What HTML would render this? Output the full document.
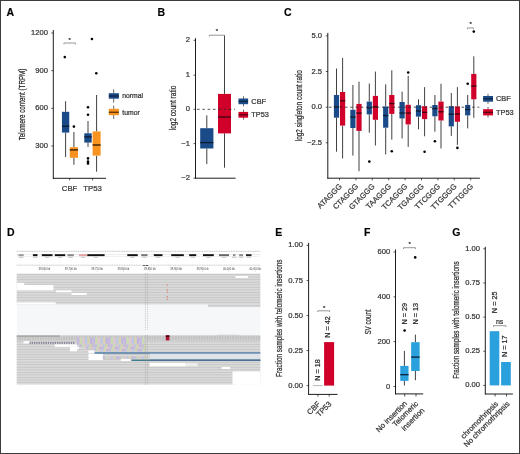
<!DOCTYPE html>
<html><head><meta charset="utf-8"><title>Figure</title>
<style>
html,body{margin:0;padding:0;background:#fff;}
body{width:520px;height:454px;overflow:hidden;}
#fig{position:relative;width:518px;height:452px;border:1px solid #3d3d3d;background:#fff;}
svg{position:absolute;left:-1px;top:-1px;font-family:"Liberation Sans", sans-serif;will-change:transform;}
text{stroke:#333;stroke-width:0.22px;}
</style></head>
<body><div id="fig">
<svg width="520" height="454" viewBox="0 0 520 454">
<text x="6.60" y="15.90" font-size="10.5" text-anchor="start" fill="#000" font-weight="bold" >A</text>
<line x1="53.30" y1="30.00" x2="53.30" y2="178.70" stroke="#111111" stroke-width="0.95" />
<line x1="52.90" y1="178.30" x2="106.00" y2="178.30" stroke="#111111" stroke-width="0.95" />
<line x1="51.30" y1="33.00" x2="53.30" y2="33.00" stroke="#111111" stroke-width="0.7" />
<text x="48.00" y="35.05" font-size="7.6" text-anchor="end" fill="#333333" font-weight="normal" >1200</text>
<line x1="51.30" y1="70.67" x2="53.30" y2="70.67" stroke="#111111" stroke-width="0.7" />
<text x="48.00" y="72.72" font-size="7.6" text-anchor="end" fill="#333333" font-weight="normal" >900</text>
<line x1="51.30" y1="108.34" x2="53.30" y2="108.34" stroke="#111111" stroke-width="0.7" />
<text x="48.00" y="110.39" font-size="7.6" text-anchor="end" fill="#333333" font-weight="normal" >600</text>
<line x1="51.30" y1="146.00" x2="53.30" y2="146.00" stroke="#111111" stroke-width="0.7" />
<text x="48.00" y="148.06" font-size="7.6" text-anchor="end" fill="#333333" font-weight="normal" >300</text>
<line x1="69.60" y1="178.30" x2="69.60" y2="180.30" stroke="#111111" stroke-width="0.7" />
<text x="69.60" y="190.80" font-size="7.8" text-anchor="middle" fill="#333333" font-weight="normal" >CBF</text>
<line x1="92.60" y1="178.30" x2="92.60" y2="180.30" stroke="#111111" stroke-width="0.7" />
<text x="92.60" y="190.80" font-size="7.8" text-anchor="middle" fill="#333333" font-weight="normal" >TP53</text>
<line x1="65.60" y1="101.20" x2="65.60" y2="111.80" stroke="#2a2a2a" stroke-width="0.9" />
<line x1="65.60" y1="132.60" x2="65.60" y2="156.90" stroke="#2a2a2a" stroke-width="0.9" />
<rect x="61.95" y="111.80" width="7.30" height="20.80" fill="#1a4b88" />
<line x1="61.95" y1="126.30" x2="69.25" y2="126.30" stroke="#0d1b2e" stroke-width="1.3" />
<line x1="73.90" y1="132.00" x2="73.90" y2="147.20" stroke="#2a2a2a" stroke-width="0.9" />
<line x1="73.90" y1="157.80" x2="73.90" y2="164.80" stroke="#2a2a2a" stroke-width="0.9" />
<rect x="69.80" y="147.20" width="8.20" height="10.60" fill="#f7931e" />
<line x1="69.80" y1="149.90" x2="78.00" y2="149.90" stroke="#2a1400" stroke-width="1.3" />
<line x1="88.00" y1="121.00" x2="88.00" y2="133.30" stroke="#2a2a2a" stroke-width="0.9" />
<line x1="88.00" y1="142.60" x2="88.00" y2="146.90" stroke="#2a2a2a" stroke-width="0.9" />
<rect x="84.30" y="133.30" width="7.40" height="9.30" fill="#1a4b88" />
<line x1="84.30" y1="136.90" x2="91.70" y2="136.90" stroke="#0d1b2e" stroke-width="1.3" />
<line x1="96.60" y1="95.00" x2="96.60" y2="131.40" stroke="#2a2a2a" stroke-width="0.9" />
<line x1="96.60" y1="155.60" x2="96.60" y2="171.70" stroke="#2a2a2a" stroke-width="0.9" />
<rect x="92.60" y="131.40" width="8.00" height="24.20" fill="#f7931e" />
<line x1="92.60" y1="145.00" x2="100.60" y2="145.00" stroke="#2a1400" stroke-width="1.3" />
<circle cx="64.80" cy="57.10" r="1.3" fill="#000"/>
<circle cx="73.90" cy="126.60" r="1.3" fill="#000"/>
<circle cx="91.90" cy="39.00" r="1.3" fill="#000"/>
<circle cx="88.00" cy="107.20" r="1.3" fill="#000"/>
<circle cx="88.00" cy="114.80" r="1.3" fill="#000"/>
<circle cx="88.00" cy="158.40" r="1.3" fill="#000"/>
<circle cx="88.00" cy="161.60" r="1.3" fill="#000"/>
<circle cx="88.00" cy="163.40" r="1.3" fill="#000"/>
<circle cx="96.30" cy="73.30" r="1.3" fill="#000"/>
<line x1="63.90" y1="43.00" x2="75.40" y2="43.00" stroke="#6b6b6b" stroke-width="0.7" />
<line x1="63.90" y1="43.00" x2="63.90" y2="44.30" stroke="#6b6b6b" stroke-width="0.7" />
<line x1="75.40" y1="43.00" x2="75.40" y2="44.30" stroke="#6b6b6b" stroke-width="0.7" />
<text x="69.60" y="41.80" font-size="6" text-anchor="middle" fill="#333" font-weight="normal" >*</text>
<line x1="113.70" y1="89.30" x2="113.70" y2="102.70" stroke="#2a2a2a" stroke-width="0.7" />
<rect x="108.80" y="93.20" width="10.10" height="5.50" fill="#1a4b88" />
<line x1="108.80" y1="96.00" x2="118.90" y2="96.00" stroke="#0d1b2e" stroke-width="1" />
<line x1="113.70" y1="105.60" x2="113.70" y2="119.00" stroke="#2a2a2a" stroke-width="0.7" />
<rect x="108.80" y="108.80" width="10.10" height="6.40" fill="#f7931e" />
<line x1="108.80" y1="112.20" x2="118.90" y2="112.20" stroke="#2a1400" stroke-width="1" />
<text x="122.30" y="98.00" font-size="6.8" text-anchor="start" fill="#333333" font-weight="normal" >normal</text>
<text x="122.30" y="114.80" font-size="6.8" text-anchor="start" fill="#333333" font-weight="normal" >tumor</text>
<text transform="translate(22.00,104.45) rotate(-90)" x="0" y="2.97" font-size="8.5" text-anchor="middle" fill="#1a1a1a" textLength="71.70" lengthAdjust="spacingAndGlyphs">Telomere content (TRPM)</text>
<text x="157.60" y="15.90" font-size="10.5" text-anchor="start" fill="#000" font-weight="bold" >B</text>
<line x1="195.50" y1="38.20" x2="195.50" y2="178.60" stroke="#111111" stroke-width="0.95" />
<line x1="195.10" y1="178.20" x2="235.60" y2="178.20" stroke="#111111" stroke-width="0.95" />
<line x1="193.50" y1="40.30" x2="195.50" y2="40.30" stroke="#111111" stroke-width="0.7" />
<text x="190.00" y="42.35" font-size="7.6" text-anchor="end" fill="#333333" font-weight="normal" >2</text>
<line x1="193.50" y1="75.20" x2="195.50" y2="75.20" stroke="#111111" stroke-width="0.7" />
<text x="190.00" y="77.25" font-size="7.6" text-anchor="end" fill="#333333" font-weight="normal" >1</text>
<line x1="193.50" y1="109.30" x2="195.50" y2="109.30" stroke="#111111" stroke-width="0.7" />
<text x="190.00" y="111.35" font-size="7.6" text-anchor="end" fill="#333333" font-weight="normal" >0</text>
<line x1="193.50" y1="143.60" x2="195.50" y2="143.60" stroke="#111111" stroke-width="0.7" />
<text x="190.00" y="145.65" font-size="7.6" text-anchor="end" fill="#333333" font-weight="normal" >&#8722;1</text>
<line x1="193.50" y1="178.20" x2="195.50" y2="178.20" stroke="#111111" stroke-width="0.7" />
<text x="190.00" y="180.25" font-size="7.6" text-anchor="end" fill="#333333" font-weight="normal" >&#8722;2</text>
<line x1="206.80" y1="115.40" x2="206.80" y2="128.20" stroke="#2a2a2a" stroke-width="0.9" />
<line x1="206.80" y1="148.50" x2="206.80" y2="164.10" stroke="#2a2a2a" stroke-width="0.9" />
<rect x="200.20" y="128.20" width="13.20" height="20.30" fill="#1a4b88" />
<line x1="200.20" y1="142.60" x2="213.40" y2="142.60" stroke="#0d1b2e" stroke-width="1.3" />
<line x1="224.50" y1="35.40" x2="224.50" y2="93.90" stroke="#2a2a2a" stroke-width="0.9" />
<line x1="224.50" y1="133.40" x2="224.50" y2="167.70" stroke="#2a2a2a" stroke-width="0.9" />
<rect x="218.00" y="93.90" width="13.00" height="39.50" fill="#d0002a" />
<line x1="218.00" y1="117.00" x2="231.00" y2="117.00" stroke="#3a0010" stroke-width="1.3" />
<line x1="197.00" y1="109.30" x2="235.00" y2="109.30" stroke="#2b2b2b" stroke-width="0.8" stroke-dasharray="2.6 2.7"/>
<line x1="209.30" y1="35.20" x2="224.40" y2="35.20" stroke="#6b6b6b" stroke-width="0.7" />
<line x1="209.30" y1="35.20" x2="209.30" y2="36.50" stroke="#6b6b6b" stroke-width="0.7" />
<line x1="224.40" y1="35.20" x2="224.40" y2="36.50" stroke="#6b6b6b" stroke-width="0.7" />
<text x="216.80" y="33.00" font-size="6" text-anchor="middle" fill="#333" font-weight="normal" >*</text>
<line x1="243.50" y1="96.30" x2="243.50" y2="106.30" stroke="#2a2a2a" stroke-width="0.7" />
<rect x="238.50" y="98.50" width="9.60" height="5.70" fill="#1a4b88" />
<line x1="238.50" y1="101.30" x2="248.10" y2="101.30" stroke="#0d1b2e" stroke-width="1" />
<line x1="243.50" y1="109.60" x2="243.50" y2="119.60" stroke="#2a2a2a" stroke-width="0.7" />
<rect x="238.50" y="111.90" width="9.60" height="5.80" fill="#d0002a" />
<line x1="238.50" y1="114.80" x2="248.10" y2="114.80" stroke="#3a0010" stroke-width="1" />
<text x="251.30" y="103.60" font-size="7.4" text-anchor="start" fill="#333333" font-weight="normal" >CBF</text>
<text x="251.30" y="117.30" font-size="7.4" text-anchor="start" fill="#333333" font-weight="normal" >TP53</text>
<text transform="translate(172.80,108.00) rotate(-90)" x="0" y="2.97" font-size="8.5" text-anchor="middle" fill="#1a1a1a" textLength="44.60" lengthAdjust="spacingAndGlyphs">log2 count ratio</text>
<text x="283.90" y="16.10" font-size="10.5" text-anchor="start" fill="#000" font-weight="bold" >C</text>
<line x1="327.80" y1="32.90" x2="327.80" y2="178.60" stroke="#111111" stroke-width="0.95" />
<line x1="327.40" y1="178.20" x2="479.90" y2="178.20" stroke="#111111" stroke-width="0.95" />
<line x1="325.80" y1="35.90" x2="327.80" y2="35.90" stroke="#111111" stroke-width="0.7" />
<text x="322.00" y="37.95" font-size="7.6" text-anchor="end" fill="#333333" font-weight="normal" >5.0</text>
<line x1="325.80" y1="71.50" x2="327.80" y2="71.50" stroke="#111111" stroke-width="0.7" />
<text x="322.00" y="73.55" font-size="7.6" text-anchor="end" fill="#333333" font-weight="normal" >2.5</text>
<line x1="325.80" y1="107.20" x2="327.80" y2="107.20" stroke="#111111" stroke-width="0.7" />
<text x="322.00" y="109.25" font-size="7.6" text-anchor="end" fill="#333333" font-weight="normal" >0.0</text>
<line x1="325.80" y1="142.80" x2="327.80" y2="142.80" stroke="#111111" stroke-width="0.7" />
<text x="322.00" y="144.85" font-size="7.6" text-anchor="end" fill="#333333" font-weight="normal" >&#8722;2.5</text>
<line x1="336.50" y1="68.50" x2="336.50" y2="95.00" stroke="#2a2a2a" stroke-width="0.9" />
<line x1="336.50" y1="117.70" x2="336.50" y2="151.70" stroke="#2a2a2a" stroke-width="0.9" />
<rect x="333.90" y="95.00" width="5.20" height="22.70" fill="#1a4b88" />
<line x1="333.90" y1="106.90" x2="339.10" y2="106.90" stroke="#0d1b2e" stroke-width="1.3" />
<line x1="342.60" y1="57.90" x2="342.60" y2="92.00" stroke="#2a2a2a" stroke-width="0.9" />
<line x1="342.60" y1="125.60" x2="342.60" y2="158.50" stroke="#2a2a2a" stroke-width="0.9" />
<rect x="340.00" y="92.00" width="5.20" height="33.60" fill="#d0002a" />
<line x1="340.00" y1="100.80" x2="345.20" y2="100.80" stroke="#3a0010" stroke-width="1.3" />
<line x1="339.50" y1="178.20" x2="339.50" y2="180.30" stroke="#111111" stroke-width="0.7" />
<text transform="translate(342.40,186.90) rotate(-45)" x="0" y="0" font-size="7.6" text-anchor="end" fill="#333333">ATAGGG</text>
<line x1="352.90" y1="85.00" x2="352.90" y2="109.80" stroke="#2a2a2a" stroke-width="0.9" />
<line x1="352.90" y1="128.00" x2="352.90" y2="155.60" stroke="#2a2a2a" stroke-width="0.9" />
<rect x="350.30" y="109.80" width="5.20" height="18.20" fill="#1a4b88" />
<line x1="350.30" y1="117.00" x2="355.50" y2="117.00" stroke="#0d1b2e" stroke-width="1.3" />
<line x1="359.00" y1="81.70" x2="359.00" y2="103.90" stroke="#2a2a2a" stroke-width="0.9" />
<line x1="359.00" y1="130.90" x2="359.00" y2="171.20" stroke="#2a2a2a" stroke-width="0.9" />
<rect x="356.40" y="103.90" width="5.20" height="27.00" fill="#d0002a" />
<line x1="356.40" y1="113.10" x2="361.60" y2="113.10" stroke="#3a0010" stroke-width="1.3" />
<line x1="355.90" y1="178.20" x2="355.90" y2="180.30" stroke="#111111" stroke-width="0.7" />
<text transform="translate(358.80,186.90) rotate(-45)" x="0" y="0" font-size="7.6" text-anchor="end" fill="#333333">CTAGGG</text>
<line x1="369.30" y1="83.50" x2="369.30" y2="101.60" stroke="#2a2a2a" stroke-width="0.9" />
<line x1="369.30" y1="114.40" x2="369.30" y2="132.70" stroke="#2a2a2a" stroke-width="0.9" />
<rect x="366.70" y="101.60" width="5.20" height="12.80" fill="#1a4b88" />
<line x1="366.70" y1="107.80" x2="371.90" y2="107.80" stroke="#0d1b2e" stroke-width="1.3" />
<circle cx="369.30" cy="161.60" r="1.3" fill="#000"/>
<line x1="375.40" y1="71.60" x2="375.40" y2="95.90" stroke="#2a2a2a" stroke-width="0.9" />
<line x1="375.40" y1="119.80" x2="375.40" y2="145.50" stroke="#2a2a2a" stroke-width="0.9" />
<rect x="372.80" y="95.90" width="5.20" height="23.90" fill="#d0002a" />
<line x1="372.80" y1="106.80" x2="378.00" y2="106.80" stroke="#3a0010" stroke-width="1.3" />
<line x1="372.30" y1="178.20" x2="372.30" y2="180.30" stroke="#111111" stroke-width="0.7" />
<text transform="translate(375.20,186.90) rotate(-45)" x="0" y="0" font-size="7.6" text-anchor="end" fill="#333333">GTAGGG</text>
<line x1="385.70" y1="84.40" x2="385.70" y2="106.50" stroke="#2a2a2a" stroke-width="0.9" />
<line x1="385.70" y1="127.70" x2="385.70" y2="154.40" stroke="#2a2a2a" stroke-width="0.9" />
<rect x="383.10" y="106.50" width="5.20" height="21.20" fill="#1a4b88" />
<line x1="383.10" y1="115.60" x2="388.30" y2="115.60" stroke="#0d1b2e" stroke-width="1.3" />
<line x1="391.80" y1="70.30" x2="391.80" y2="95.00" stroke="#2a2a2a" stroke-width="0.9" />
<line x1="391.80" y1="113.90" x2="391.80" y2="139.60" stroke="#2a2a2a" stroke-width="0.9" />
<rect x="389.20" y="95.00" width="5.20" height="18.90" fill="#d0002a" />
<line x1="389.20" y1="103.60" x2="394.40" y2="103.60" stroke="#3a0010" stroke-width="1.3" />
<circle cx="391.80" cy="151.30" r="1.3" fill="#000"/>
<line x1="388.70" y1="178.20" x2="388.70" y2="180.30" stroke="#111111" stroke-width="0.7" />
<text transform="translate(391.60,186.90) rotate(-45)" x="0" y="0" font-size="7.6" text-anchor="end" fill="#333333">TAAGGG</text>
<line x1="402.10" y1="91.70" x2="402.10" y2="102.00" stroke="#2a2a2a" stroke-width="0.9" />
<line x1="402.10" y1="118.50" x2="402.10" y2="138.50" stroke="#2a2a2a" stroke-width="0.9" />
<rect x="399.50" y="102.00" width="5.20" height="16.50" fill="#1a4b88" />
<line x1="399.50" y1="113.00" x2="404.70" y2="113.00" stroke="#0d1b2e" stroke-width="1.3" />
<line x1="408.20" y1="75.80" x2="408.20" y2="104.80" stroke="#2a2a2a" stroke-width="0.9" />
<line x1="408.20" y1="124.40" x2="408.20" y2="146.90" stroke="#2a2a2a" stroke-width="0.9" />
<rect x="405.60" y="104.80" width="5.20" height="19.60" fill="#d0002a" />
<line x1="405.60" y1="113.10" x2="410.80" y2="113.10" stroke="#3a0010" stroke-width="1.3" />
<circle cx="408.20" cy="72.50" r="1.3" fill="#000"/>
<line x1="405.10" y1="178.20" x2="405.10" y2="180.30" stroke="#111111" stroke-width="0.7" />
<text transform="translate(408.00,186.90) rotate(-45)" x="0" y="0" font-size="7.6" text-anchor="end" fill="#333333">TCAGGG</text>
<line x1="418.50" y1="99.30" x2="418.50" y2="105.20" stroke="#2a2a2a" stroke-width="0.9" />
<line x1="418.50" y1="116.60" x2="418.50" y2="129.30" stroke="#2a2a2a" stroke-width="0.9" />
<rect x="415.90" y="105.20" width="5.20" height="11.40" fill="#1a4b88" />
<line x1="415.90" y1="111.00" x2="421.10" y2="111.00" stroke="#0d1b2e" stroke-width="1.3" />
<line x1="424.60" y1="87.10" x2="424.60" y2="106.20" stroke="#2a2a2a" stroke-width="0.9" />
<line x1="424.60" y1="119.10" x2="424.60" y2="136.30" stroke="#2a2a2a" stroke-width="0.9" />
<rect x="422.00" y="106.20" width="5.20" height="12.90" fill="#d0002a" />
<line x1="422.00" y1="112.30" x2="427.20" y2="112.30" stroke="#3a0010" stroke-width="1.3" />
<circle cx="424.60" cy="151.80" r="1.3" fill="#000"/>
<line x1="421.50" y1="178.20" x2="421.50" y2="180.30" stroke="#111111" stroke-width="0.7" />
<text transform="translate(424.40,186.90) rotate(-45)" x="0" y="0" font-size="7.6" text-anchor="end" fill="#333333">TGAGGG</text>
<line x1="434.90" y1="95.00" x2="434.90" y2="105.00" stroke="#2a2a2a" stroke-width="0.9" />
<line x1="434.90" y1="116.30" x2="434.90" y2="131.70" stroke="#2a2a2a" stroke-width="0.9" />
<rect x="432.30" y="105.00" width="5.20" height="11.30" fill="#1a4b88" />
<line x1="432.30" y1="108.70" x2="437.50" y2="108.70" stroke="#0d1b2e" stroke-width="1.3" />
<circle cx="434.90" cy="141.20" r="1.3" fill="#000"/>
<line x1="441.00" y1="83.80" x2="441.00" y2="101.60" stroke="#2a2a2a" stroke-width="0.9" />
<line x1="441.00" y1="120.50" x2="441.00" y2="148.50" stroke="#2a2a2a" stroke-width="0.9" />
<rect x="438.40" y="101.60" width="5.20" height="18.90" fill="#d0002a" />
<line x1="438.40" y1="111.80" x2="443.60" y2="111.80" stroke="#3a0010" stroke-width="1.3" />
<line x1="437.90" y1="178.20" x2="437.90" y2="180.30" stroke="#111111" stroke-width="0.7" />
<text transform="translate(440.80,186.90) rotate(-45)" x="0" y="0" font-size="7.6" text-anchor="end" fill="#333333">TTCGGG</text>
<line x1="451.30" y1="93.00" x2="451.30" y2="106.10" stroke="#2a2a2a" stroke-width="0.9" />
<line x1="451.30" y1="126.40" x2="451.30" y2="135.90" stroke="#2a2a2a" stroke-width="0.9" />
<rect x="448.70" y="106.10" width="5.20" height="20.30" fill="#1a4b88" />
<line x1="448.70" y1="114.20" x2="453.90" y2="114.20" stroke="#0d1b2e" stroke-width="1.3" />
<line x1="457.40" y1="87.10" x2="457.40" y2="106.40" stroke="#2a2a2a" stroke-width="0.9" />
<line x1="457.40" y1="121.80" x2="457.40" y2="144.90" stroke="#2a2a2a" stroke-width="0.9" />
<rect x="454.80" y="106.40" width="5.20" height="15.40" fill="#d0002a" />
<line x1="454.80" y1="114.00" x2="460.00" y2="114.00" stroke="#3a0010" stroke-width="1.3" />
<circle cx="457.40" cy="147.90" r="1.3" fill="#000"/>
<line x1="454.30" y1="178.20" x2="454.30" y2="180.30" stroke="#111111" stroke-width="0.7" />
<text transform="translate(457.20,186.90) rotate(-45)" x="0" y="0" font-size="7.6" text-anchor="end" fill="#333333">TTGGGG</text>
<line x1="467.70" y1="95.00" x2="467.70" y2="104.90" stroke="#2a2a2a" stroke-width="0.9" />
<line x1="467.70" y1="115.40" x2="467.70" y2="128.40" stroke="#2a2a2a" stroke-width="0.9" />
<rect x="465.10" y="104.90" width="5.20" height="10.50" fill="#1a4b88" />
<line x1="465.10" y1="109.50" x2="470.30" y2="109.50" stroke="#0d1b2e" stroke-width="1.3" />
<circle cx="467.70" cy="83.80" r="1.3" fill="#000"/>
<line x1="473.80" y1="56.30" x2="473.80" y2="73.90" stroke="#2a2a2a" stroke-width="0.9" />
<line x1="473.80" y1="99.30" x2="473.80" y2="117.80" stroke="#2a2a2a" stroke-width="0.9" />
<rect x="471.20" y="73.90" width="5.20" height="25.40" fill="#d0002a" />
<line x1="471.20" y1="86.10" x2="476.40" y2="86.10" stroke="#3a0010" stroke-width="1.3" />
<circle cx="473.80" cy="31.60" r="1.3" fill="#000"/>
<line x1="470.70" y1="178.20" x2="470.70" y2="180.30" stroke="#111111" stroke-width="0.7" />
<text transform="translate(473.60,186.90) rotate(-45)" x="0" y="0" font-size="7.6" text-anchor="end" fill="#333333">TTTGGG</text>
<line x1="329.00" y1="107.20" x2="479.40" y2="107.20" stroke="#2b2b2b" stroke-width="0.8" stroke-dasharray="2.6 2.7"/>
<line x1="467.50" y1="27.90" x2="473.50" y2="27.90" stroke="#6b6b6b" stroke-width="0.7" />
<line x1="467.50" y1="27.90" x2="467.50" y2="29.20" stroke="#6b6b6b" stroke-width="0.7" />
<line x1="473.50" y1="27.90" x2="473.50" y2="29.20" stroke="#6b6b6b" stroke-width="0.7" />
<text x="470.60" y="25.80" font-size="6" text-anchor="middle" fill="#333" font-weight="normal" >*</text>
<line x1="488.00" y1="93.80" x2="488.00" y2="103.90" stroke="#2a2a2a" stroke-width="0.7" />
<rect x="483.10" y="96.00" width="9.90" height="5.70" fill="#1a4b88" />
<line x1="483.10" y1="98.80" x2="493.00" y2="98.80" stroke="#0d1b2e" stroke-width="1" />
<line x1="488.00" y1="107.00" x2="488.00" y2="117.50" stroke="#2a2a2a" stroke-width="0.7" />
<rect x="483.10" y="109.20" width="9.90" height="6.20" fill="#d0002a" />
<line x1="483.10" y1="112.30" x2="493.00" y2="112.30" stroke="#3a0010" stroke-width="1" />
<text x="496.00" y="101.40" font-size="7.4" text-anchor="start" fill="#333333" font-weight="normal" >CBF</text>
<text x="496.00" y="115.00" font-size="7.4" text-anchor="start" fill="#333333" font-weight="normal" >TP53</text>
<text transform="translate(299.10,105.70) rotate(-90)" x="0" y="2.97" font-size="8.5" text-anchor="middle" fill="#1a1a1a" textLength="71.00" lengthAdjust="spacingAndGlyphs">log2 singleton count ratio</text>
<text x="7.00" y="236.20" font-size="10.5" text-anchor="start" fill="#000" font-weight="bold" >D</text>
<line x1="16.70" y1="251.30" x2="260.30" y2="251.30" stroke="#a0a0a0" stroke-width="0.6" stroke-dasharray="1.2 0.5"/>
<rect x="17.70" y="254.2" width="241.60" height="1.9" fill="#fff" stroke="#c8c8c8" stroke-width="0.3"/>
<rect x="18.50" y="254.20" width="5.20" height="1.90" fill="#9a9a9a" />
<rect x="32.90" y="254.20" width="4.60" height="1.90" fill="#111" />
<rect x="41.80" y="254.20" width="10.70" height="1.90" fill="#111" />
<rect x="54.80" y="254.20" width="10.40" height="1.90" fill="#111" />
<rect x="67.50" y="254.20" width="6.30" height="1.90" fill="#888" />
<rect x="79.00" y="254.20" width="8.00" height="1.90" fill="#e9a0a0" />
<rect x="87.30" y="254.20" width="17.30" height="1.90" fill="#111" />
<rect x="127.30" y="254.20" width="10.40" height="1.90" fill="#111" />
<rect x="141.20" y="254.20" width="6.30" height="1.90" fill="#777" />
<rect x="153.80" y="254.20" width="8.70" height="1.90" fill="#111" />
<rect x="171.20" y="254.20" width="12.60" height="1.90" fill="#111" />
<rect x="189.20" y="254.20" width="7.00" height="1.90" fill="#111" />
<rect x="203.00" y="254.20" width="10.80" height="1.90" fill="#111" />
<rect x="219.00" y="254.20" width="10.00" height="1.90" fill="#666" />
<rect x="233.00" y="254.20" width="2.40" height="1.90" fill="#888" />
<rect x="239.20" y="254.20" width="3.80" height="1.90" fill="#888" />
<rect x="246.00" y="254.20" width="5.50" height="1.90" fill="#222" />
<rect x="18.90" y="256.90" width="4.40" height="0.70" fill="#b0b0b0" />
<rect x="33.00" y="256.90" width="4.40" height="0.70" fill="#b0b0b0" />
<rect x="44.95" y="256.90" width="4.40" height="0.70" fill="#b0b0b0" />
<rect x="57.80" y="256.90" width="4.40" height="0.70" fill="#b0b0b0" />
<rect x="68.45" y="256.90" width="4.40" height="0.70" fill="#b0b0b0" />
<rect x="80.80" y="256.90" width="4.40" height="0.70" fill="#b0b0b0" />
<rect x="93.75" y="256.90" width="4.40" height="0.70" fill="#b0b0b0" />
<rect x="130.30" y="256.90" width="4.40" height="0.70" fill="#b0b0b0" />
<rect x="142.15" y="256.90" width="4.40" height="0.70" fill="#b0b0b0" />
<rect x="155.95" y="256.90" width="4.40" height="0.70" fill="#b0b0b0" />
<rect x="175.30" y="256.90" width="4.40" height="0.70" fill="#b0b0b0" />
<rect x="190.50" y="256.90" width="4.40" height="0.70" fill="#b0b0b0" />
<rect x="206.20" y="256.90" width="4.40" height="0.70" fill="#b0b0b0" />
<rect x="221.80" y="256.90" width="4.40" height="0.70" fill="#b0b0b0" />
<rect x="232.00" y="256.90" width="4.40" height="0.70" fill="#b0b0b0" />
<rect x="238.90" y="256.90" width="4.40" height="0.70" fill="#b0b0b0" />
<rect x="246.55" y="256.90" width="4.40" height="0.70" fill="#b0b0b0" />
<line x1="16.70" y1="265.20" x2="260.30" y2="265.20" stroke="#a8a8a8" stroke-width="0.6" stroke-dasharray="1.2 0.5"/>
<rect x="141.50" y="263.80" width="8.00" height="2.60" fill="#fff" />
<text x="145.50" y="266.30" font-size="2.4" text-anchor="middle" fill="#555" font-weight="normal" >40 kb</text>
<text x="44.40" y="269.9" font-size="2.7" text-anchor="middle" fill="#3a3a3a" style="stroke:none">39,650 kb</text>
<line x1="44.40" y1="270.60" x2="44.40" y2="271.80" stroke="#999" stroke-width="0.4" />
<text x="70.75" y="269.9" font-size="2.7" text-anchor="middle" fill="#3a3a3a" style="stroke:none">39,700 kb</text>
<line x1="70.75" y1="270.60" x2="70.75" y2="271.80" stroke="#999" stroke-width="0.4" />
<text x="97.10" y="269.9" font-size="2.7" text-anchor="middle" fill="#3a3a3a" style="stroke:none">39,750 kb</text>
<line x1="97.10" y1="270.60" x2="97.10" y2="271.80" stroke="#999" stroke-width="0.4" />
<text x="123.45" y="269.9" font-size="2.7" text-anchor="middle" fill="#3a3a3a" style="stroke:none">39,800 kb</text>
<line x1="123.45" y1="270.60" x2="123.45" y2="271.80" stroke="#999" stroke-width="0.4" />
<text x="149.80" y="269.9" font-size="2.7" text-anchor="middle" fill="#3a3a3a" style="stroke:none">39,850 kb</text>
<line x1="149.80" y1="270.60" x2="149.80" y2="271.80" stroke="#999" stroke-width="0.4" />
<text x="176.15" y="269.9" font-size="2.7" text-anchor="middle" fill="#3a3a3a" style="stroke:none">39,900 kb</text>
<line x1="176.15" y1="270.60" x2="176.15" y2="271.80" stroke="#999" stroke-width="0.4" />
<text x="202.50" y="269.9" font-size="2.7" text-anchor="middle" fill="#3a3a3a" style="stroke:none">39,950 kb</text>
<line x1="202.50" y1="270.60" x2="202.50" y2="271.80" stroke="#999" stroke-width="0.4" />
<text x="228.85" y="269.9" font-size="2.7" text-anchor="middle" fill="#3a3a3a" style="stroke:none">40,000 kb</text>
<line x1="228.85" y1="270.60" x2="228.85" y2="271.80" stroke="#999" stroke-width="0.4" />
<text x="255.20" y="269.9" font-size="2.7" text-anchor="middle" fill="#3a3a3a" style="stroke:none">40,050 kb</text>
<line x1="255.20" y1="270.60" x2="255.20" y2="271.80" stroke="#999" stroke-width="0.4" />
<rect x="16.70" y="304.50" width="243.60" height="30.90" fill="#f6f7f9" />
<rect x="16.70" y="273.60" width="243.60" height="30.90" fill="#dadada" />
<rect x="16.70" y="274.20" width="243.60" height="0.75" fill="#c2c2c2" />
<rect x="16.70" y="276.75" width="243.60" height="0.75" fill="#c2c2c2" />
<rect x="16.70" y="279.30" width="243.60" height="0.75" fill="#c2c2c2" />
<rect x="16.70" y="281.85" width="243.60" height="0.75" fill="#c2c2c2" />
<rect x="16.70" y="284.40" width="243.60" height="0.75" fill="#c2c2c2" />
<rect x="16.70" y="286.95" width="243.60" height="0.75" fill="#c2c2c2" />
<rect x="16.70" y="289.50" width="243.60" height="0.75" fill="#c2c2c2" />
<rect x="16.70" y="292.05" width="243.60" height="0.75" fill="#c2c2c2" />
<rect x="16.70" y="294.60" width="243.60" height="0.75" fill="#c2c2c2" />
<rect x="16.70" y="297.15" width="243.60" height="0.75" fill="#c2c2c2" />
<rect x="16.70" y="299.70" width="243.60" height="0.75" fill="#c2c2c2" />
<rect x="16.70" y="302.25" width="243.60" height="0.75" fill="#c2c2c2" />
<rect x="16.70" y="282.80" width="7.50" height="2.20" fill="#fff" />
<rect x="16.70" y="285.00" width="36.80" height="5.30" fill="#fff" />
<rect x="55.90" y="290.30" width="15.60" height="2.00" fill="#fff" />
<rect x="71.50" y="292.90" width="15.10" height="2.10" fill="#fff" />
<rect x="235.50" y="276.00" width="12.40" height="2.00" fill="#fff" />
<rect x="16.70" y="302.30" width="39.00" height="2.00" fill="#fff" />
<rect x="208.00" y="304.20" width="52.30" height="2.90" fill="#dadada" />
<rect x="208.00" y="305.40" width="52.30" height="0.75" fill="#c2c2c2" />
<rect x="166.80" y="284.50" width="0.90" height="1.40" fill="#d9735a" />
<rect x="166.80" y="289.00" width="0.90" height="1.40" fill="#d9735a" />
<rect x="166.80" y="291.50" width="0.90" height="1.40" fill="#d9735a" />
<rect x="166.80" y="296.00" width="0.90" height="1.40" fill="#d9735a" />
<rect x="166.80" y="298.50" width="0.90" height="1.40" fill="#d9735a" />
<line x1="145.40" y1="273.00" x2="145.40" y2="330.00" stroke="#8a8a8a" stroke-width="0.4" stroke-dasharray="1 0.8"/>
<line x1="147.60" y1="273.00" x2="147.60" y2="330.00" stroke="#8a8a8a" stroke-width="0.4" stroke-dasharray="1 0.8"/>
<rect x="16.70" y="335.40" width="243.60" height="5.40" fill="#c2c2c2" />
<rect x="18.30" y="335.40" width="0.60" height="5.40" fill="#dadada" />
<rect x="20.90" y="335.40" width="0.60" height="5.40" fill="#dadada" />
<rect x="23.50" y="335.40" width="0.60" height="5.40" fill="#dadada" />
<rect x="26.10" y="335.40" width="0.60" height="5.40" fill="#dadada" />
<rect x="28.70" y="335.40" width="0.60" height="5.40" fill="#dadada" />
<rect x="31.30" y="335.40" width="0.60" height="5.40" fill="#dadada" />
<rect x="33.90" y="335.40" width="0.60" height="5.40" fill="#dadada" />
<rect x="36.50" y="335.40" width="0.60" height="5.40" fill="#dadada" />
<rect x="39.10" y="335.40" width="0.60" height="5.40" fill="#dadada" />
<rect x="41.70" y="335.40" width="0.60" height="5.40" fill="#dadada" />
<rect x="44.30" y="335.40" width="0.60" height="5.40" fill="#dadada" />
<rect x="46.90" y="335.40" width="0.60" height="5.40" fill="#dadada" />
<rect x="49.50" y="335.40" width="0.60" height="5.40" fill="#dadada" />
<rect x="52.10" y="335.40" width="0.60" height="5.40" fill="#dadada" />
<rect x="54.70" y="335.40" width="0.60" height="5.40" fill="#dadada" />
<rect x="57.30" y="335.40" width="0.60" height="5.40" fill="#dadada" />
<rect x="59.90" y="335.40" width="0.60" height="5.40" fill="#dadada" />
<rect x="62.50" y="335.40" width="0.60" height="5.40" fill="#dadada" />
<rect x="65.10" y="335.40" width="0.60" height="5.40" fill="#dadada" />
<rect x="67.70" y="335.40" width="0.60" height="5.40" fill="#dadada" />
<rect x="70.30" y="335.40" width="0.60" height="5.40" fill="#dadada" />
<rect x="72.90" y="335.40" width="0.60" height="5.40" fill="#dadada" />
<rect x="75.50" y="335.40" width="0.60" height="5.40" fill="#dadada" />
<rect x="78.10" y="335.40" width="0.60" height="5.40" fill="#dadada" />
<rect x="80.70" y="335.40" width="0.60" height="5.40" fill="#dadada" />
<rect x="83.30" y="335.40" width="0.60" height="5.40" fill="#dadada" />
<rect x="85.90" y="335.40" width="0.60" height="5.40" fill="#dadada" />
<rect x="88.50" y="335.40" width="0.60" height="5.40" fill="#dadada" />
<rect x="91.10" y="335.40" width="0.60" height="5.40" fill="#dadada" />
<rect x="93.70" y="335.40" width="0.60" height="5.40" fill="#dadada" />
<rect x="96.30" y="335.40" width="0.60" height="5.40" fill="#dadada" />
<rect x="98.90" y="335.40" width="0.60" height="5.40" fill="#dadada" />
<rect x="101.50" y="335.40" width="0.60" height="5.40" fill="#dadada" />
<rect x="104.10" y="335.40" width="0.60" height="5.40" fill="#dadada" />
<rect x="106.70" y="335.40" width="0.60" height="5.40" fill="#dadada" />
<rect x="109.30" y="335.40" width="0.60" height="5.40" fill="#dadada" />
<rect x="111.90" y="335.40" width="0.60" height="5.40" fill="#dadada" />
<rect x="114.50" y="335.40" width="0.60" height="5.40" fill="#dadada" />
<rect x="117.10" y="335.40" width="0.60" height="5.40" fill="#dadada" />
<rect x="119.70" y="335.40" width="0.60" height="5.40" fill="#dadada" />
<rect x="122.30" y="335.40" width="0.60" height="5.40" fill="#dadada" />
<rect x="124.90" y="335.40" width="0.60" height="5.40" fill="#dadada" />
<rect x="127.50" y="335.40" width="0.60" height="5.40" fill="#dadada" />
<rect x="130.10" y="335.40" width="0.60" height="5.40" fill="#dadada" />
<rect x="132.70" y="335.40" width="0.60" height="5.40" fill="#dadada" />
<rect x="135.30" y="335.40" width="0.60" height="5.40" fill="#dadada" />
<rect x="137.90" y="335.40" width="0.60" height="5.40" fill="#dadada" />
<rect x="140.50" y="335.40" width="0.60" height="5.40" fill="#dadada" />
<rect x="143.10" y="335.40" width="0.60" height="5.40" fill="#dadada" />
<rect x="145.70" y="335.40" width="0.60" height="5.40" fill="#dadada" />
<rect x="148.30" y="335.40" width="0.60" height="5.40" fill="#dadada" />
<rect x="150.90" y="335.40" width="0.60" height="5.40" fill="#dadada" />
<rect x="153.50" y="335.40" width="0.60" height="5.40" fill="#dadada" />
<rect x="156.10" y="335.40" width="0.60" height="5.40" fill="#dadada" />
<rect x="158.70" y="335.40" width="0.60" height="5.40" fill="#dadada" />
<rect x="161.30" y="335.40" width="0.60" height="5.40" fill="#dadada" />
<rect x="163.90" y="335.40" width="0.60" height="5.40" fill="#dadada" />
<rect x="166.50" y="335.40" width="0.60" height="5.40" fill="#dadada" />
<rect x="169.10" y="335.40" width="0.60" height="5.40" fill="#dadada" />
<rect x="171.70" y="335.40" width="0.60" height="5.40" fill="#dadada" />
<rect x="174.30" y="335.40" width="0.60" height="5.40" fill="#dadada" />
<rect x="176.90" y="335.40" width="0.60" height="5.40" fill="#dadada" />
<rect x="179.50" y="335.40" width="0.60" height="5.40" fill="#dadada" />
<rect x="182.10" y="335.40" width="0.60" height="5.40" fill="#dadada" />
<rect x="184.70" y="335.40" width="0.60" height="5.40" fill="#dadada" />
<rect x="187.30" y="335.40" width="0.60" height="5.40" fill="#dadada" />
<rect x="189.90" y="335.40" width="0.60" height="5.40" fill="#dadada" />
<rect x="192.50" y="335.40" width="0.60" height="5.40" fill="#dadada" />
<rect x="195.10" y="335.40" width="0.60" height="5.40" fill="#dadada" />
<rect x="197.70" y="335.40" width="0.60" height="5.40" fill="#dadada" />
<rect x="200.30" y="335.40" width="0.60" height="5.40" fill="#dadada" />
<rect x="202.90" y="335.40" width="0.60" height="5.40" fill="#dadada" />
<rect x="205.50" y="335.40" width="0.60" height="5.40" fill="#dadada" />
<rect x="208.10" y="335.40" width="0.60" height="5.40" fill="#dadada" />
<rect x="210.70" y="335.40" width="0.60" height="5.40" fill="#dadada" />
<rect x="213.30" y="335.40" width="0.60" height="5.40" fill="#dadada" />
<rect x="215.90" y="335.40" width="0.60" height="5.40" fill="#dadada" />
<rect x="218.50" y="335.40" width="0.60" height="5.40" fill="#dadada" />
<rect x="221.10" y="335.40" width="0.60" height="5.40" fill="#dadada" />
<rect x="223.70" y="335.40" width="0.60" height="5.40" fill="#dadada" />
<rect x="226.30" y="335.40" width="0.60" height="5.40" fill="#dadada" />
<rect x="228.90" y="335.40" width="0.60" height="5.40" fill="#dadada" />
<rect x="231.50" y="335.40" width="0.60" height="5.40" fill="#dadada" />
<rect x="234.10" y="335.40" width="0.60" height="5.40" fill="#dadada" />
<rect x="236.70" y="335.40" width="0.60" height="5.40" fill="#dadada" />
<rect x="239.30" y="335.40" width="0.60" height="5.40" fill="#dadada" />
<rect x="241.90" y="335.40" width="0.60" height="5.40" fill="#dadada" />
<rect x="244.50" y="335.40" width="0.60" height="5.40" fill="#dadada" />
<rect x="247.10" y="335.40" width="0.60" height="5.40" fill="#dadada" />
<rect x="249.70" y="335.40" width="0.60" height="5.40" fill="#dadada" />
<rect x="252.30" y="335.40" width="0.60" height="5.40" fill="#dadada" />
<rect x="254.90" y="335.40" width="0.60" height="5.40" fill="#dadada" />
<rect x="257.50" y="335.40" width="0.60" height="5.40" fill="#dadada" />
<rect x="216.70" y="334.80" width="22.60" height="0.80" fill="#c8c8c8" />
<rect x="16.70" y="335.40" width="43.30" height="1.60" fill="#a9a9a9" />
<rect x="165.80" y="335.40" width="3.60" height="5.00" fill="#b01030" />
<rect x="165.80" y="335.40" width="3.60" height="1.60" fill="#4a0010" />
<rect x="16.70" y="341.00" width="243.60" height="43.60" fill="#dadada" />
<rect x="16.70" y="341.40" width="243.60" height="0.75" fill="#c2c2c2" />
<rect x="16.70" y="343.95" width="243.60" height="0.75" fill="#c2c2c2" />
<rect x="16.70" y="346.50" width="243.60" height="0.75" fill="#c2c2c2" />
<rect x="16.70" y="349.05" width="243.60" height="0.75" fill="#c2c2c2" />
<rect x="16.70" y="351.60" width="243.60" height="0.75" fill="#c2c2c2" />
<rect x="16.70" y="354.15" width="243.60" height="0.75" fill="#c2c2c2" />
<rect x="16.70" y="356.70" width="243.60" height="0.75" fill="#c2c2c2" />
<rect x="16.70" y="359.25" width="243.60" height="0.75" fill="#c2c2c2" />
<rect x="16.70" y="361.80" width="243.60" height="0.75" fill="#c2c2c2" />
<rect x="16.70" y="364.35" width="243.60" height="0.75" fill="#c2c2c2" />
<rect x="16.70" y="366.90" width="243.60" height="0.75" fill="#c2c2c2" />
<rect x="16.70" y="369.45" width="243.60" height="0.75" fill="#c2c2c2" />
<rect x="16.70" y="372.00" width="243.60" height="0.75" fill="#c2c2c2" />
<rect x="16.70" y="374.55" width="243.60" height="0.75" fill="#c2c2c2" />
<rect x="16.70" y="377.10" width="243.60" height="0.75" fill="#c2c2c2" />
<rect x="16.70" y="379.65" width="243.60" height="0.75" fill="#c2c2c2" />
<rect x="16.70" y="382.20" width="243.60" height="0.75" fill="#c2c2c2" />
<rect x="76.90" y="337.60" width="70.00" height="4.40" fill="#cfcfcf" />
<rect x="77.20" y="337.60" width="2.00" height="4.40" fill="#c4b3e3" />
<rect x="79.80" y="337.60" width="2.00" height="4.40" fill="#c9dcae" />
<rect x="82.40" y="337.60" width="2.00" height="4.40" fill="#e2c4cf" />
<rect x="85.00" y="337.60" width="2.00" height="4.40" fill="#b9c6e6" />
<rect x="87.60" y="337.60" width="2.00" height="4.40" fill="#d9d2a8" />
<rect x="90.20" y="337.60" width="2.00" height="4.40" fill="#c0b0de" />
<rect x="92.80" y="337.60" width="2.00" height="4.40" fill="#c4b3e3" />
<rect x="95.40" y="337.60" width="2.00" height="4.40" fill="#c9dcae" />
<rect x="98.00" y="337.60" width="2.00" height="4.40" fill="#e2c4cf" />
<rect x="100.60" y="337.60" width="2.00" height="4.40" fill="#b9c6e6" />
<rect x="103.20" y="337.60" width="2.00" height="4.40" fill="#d9d2a8" />
<rect x="105.80" y="337.60" width="2.00" height="4.40" fill="#c0b0de" />
<rect x="108.40" y="337.60" width="2.00" height="4.40" fill="#c4b3e3" />
<rect x="111.00" y="337.60" width="2.00" height="4.40" fill="#c9dcae" />
<rect x="113.60" y="337.60" width="2.00" height="4.40" fill="#e2c4cf" />
<rect x="116.20" y="337.60" width="2.00" height="4.40" fill="#b9c6e6" />
<rect x="118.80" y="337.60" width="2.00" height="4.40" fill="#d9d2a8" />
<rect x="121.40" y="337.60" width="2.00" height="4.40" fill="#c0b0de" />
<rect x="124.00" y="337.60" width="2.00" height="4.40" fill="#c4b3e3" />
<rect x="126.60" y="337.60" width="2.00" height="4.40" fill="#c9dcae" />
<rect x="129.20" y="337.60" width="2.00" height="4.40" fill="#e2c4cf" />
<rect x="131.80" y="337.60" width="2.00" height="4.40" fill="#b9c6e6" />
<rect x="134.40" y="337.60" width="2.00" height="4.40" fill="#d9d2a8" />
<rect x="137.00" y="337.60" width="2.00" height="4.40" fill="#c0b0de" />
<rect x="139.60" y="337.60" width="2.00" height="4.40" fill="#c4b3e3" />
<rect x="142.20" y="337.60" width="2.00" height="4.40" fill="#c9dcae" />
<rect x="76.90" y="342.30" width="70.00" height="2.10" fill="#cfcfcf" />
<rect x="77.20" y="342.30" width="2.00" height="2.10" fill="#c4b3e3" />
<rect x="79.80" y="342.30" width="2.00" height="2.10" fill="#c9dcae" />
<rect x="82.40" y="342.30" width="2.00" height="2.10" fill="#e2c4cf" />
<rect x="85.00" y="342.30" width="2.00" height="2.10" fill="#b9c6e6" />
<rect x="87.60" y="342.30" width="2.00" height="2.10" fill="#d9d2a8" />
<rect x="90.20" y="342.30" width="2.00" height="2.10" fill="#c0b0de" />
<rect x="92.80" y="342.30" width="2.00" height="2.10" fill="#c4b3e3" />
<rect x="95.40" y="342.30" width="2.00" height="2.10" fill="#c9dcae" />
<rect x="98.00" y="342.30" width="2.00" height="2.10" fill="#e2c4cf" />
<rect x="100.60" y="342.30" width="2.00" height="2.10" fill="#b9c6e6" />
<rect x="103.20" y="342.30" width="2.00" height="2.10" fill="#d9d2a8" />
<rect x="105.80" y="342.30" width="2.00" height="2.10" fill="#c0b0de" />
<rect x="108.40" y="342.30" width="2.00" height="2.10" fill="#c4b3e3" />
<rect x="111.00" y="342.30" width="2.00" height="2.10" fill="#c9dcae" />
<rect x="113.60" y="342.30" width="2.00" height="2.10" fill="#e2c4cf" />
<rect x="116.20" y="342.30" width="2.00" height="2.10" fill="#b9c6e6" />
<rect x="118.80" y="342.30" width="2.00" height="2.10" fill="#d9d2a8" />
<rect x="121.40" y="342.30" width="2.00" height="2.10" fill="#c0b0de" />
<rect x="124.00" y="342.30" width="2.00" height="2.10" fill="#c4b3e3" />
<rect x="126.60" y="342.30" width="2.00" height="2.10" fill="#c9dcae" />
<rect x="129.20" y="342.30" width="2.00" height="2.10" fill="#e2c4cf" />
<rect x="131.80" y="342.30" width="2.00" height="2.10" fill="#b9c6e6" />
<rect x="134.40" y="342.30" width="2.00" height="2.10" fill="#d9d2a8" />
<rect x="137.00" y="342.30" width="2.00" height="2.10" fill="#c0b0de" />
<rect x="139.60" y="342.30" width="2.00" height="2.10" fill="#c4b3e3" />
<rect x="142.20" y="342.30" width="2.00" height="2.10" fill="#c9dcae" />
<rect x="79.00" y="344.60" width="67.90" height="2.10" fill="#cfcfcf" />
<rect x="79.30" y="344.60" width="2.00" height="2.10" fill="#c4b3e3" />
<rect x="81.90" y="344.60" width="2.00" height="2.10" fill="#c9dcae" />
<rect x="84.50" y="344.60" width="2.00" height="2.10" fill="#e2c4cf" />
<rect x="87.10" y="344.60" width="2.00" height="2.10" fill="#b9c6e6" />
<rect x="89.70" y="344.60" width="2.00" height="2.10" fill="#d9d2a8" />
<rect x="92.30" y="344.60" width="2.00" height="2.10" fill="#c0b0de" />
<rect x="94.90" y="344.60" width="2.00" height="2.10" fill="#c4b3e3" />
<rect x="97.50" y="344.60" width="2.00" height="2.10" fill="#c9dcae" />
<rect x="100.10" y="344.60" width="2.00" height="2.10" fill="#e2c4cf" />
<rect x="102.70" y="344.60" width="2.00" height="2.10" fill="#b9c6e6" />
<rect x="105.30" y="344.60" width="2.00" height="2.10" fill="#d9d2a8" />
<rect x="107.90" y="344.60" width="2.00" height="2.10" fill="#c0b0de" />
<rect x="110.50" y="344.60" width="2.00" height="2.10" fill="#c4b3e3" />
<rect x="113.10" y="344.60" width="2.00" height="2.10" fill="#c9dcae" />
<rect x="115.70" y="344.60" width="2.00" height="2.10" fill="#e2c4cf" />
<rect x="118.30" y="344.60" width="2.00" height="2.10" fill="#b9c6e6" />
<rect x="120.90" y="344.60" width="2.00" height="2.10" fill="#d9d2a8" />
<rect x="123.50" y="344.60" width="2.00" height="2.10" fill="#c0b0de" />
<rect x="126.10" y="344.60" width="2.00" height="2.10" fill="#c4b3e3" />
<rect x="128.70" y="344.60" width="2.00" height="2.10" fill="#c9dcae" />
<rect x="131.30" y="344.60" width="2.00" height="2.10" fill="#e2c4cf" />
<rect x="133.90" y="344.60" width="2.00" height="2.10" fill="#b9c6e6" />
<rect x="136.50" y="344.60" width="2.00" height="2.10" fill="#d9d2a8" />
<rect x="139.10" y="344.60" width="2.00" height="2.10" fill="#c0b0de" />
<rect x="141.70" y="344.60" width="2.00" height="2.10" fill="#c4b3e3" />
<rect x="144.30" y="344.60" width="2.00" height="2.10" fill="#c9dcae" />
<rect x="86.00" y="346.90" width="60.90" height="2.10" fill="#cfcfcf" />
<rect x="86.30" y="346.90" width="2.00" height="2.10" fill="#c4b3e3" />
<rect x="88.90" y="346.90" width="2.00" height="2.10" fill="#c9dcae" />
<rect x="91.50" y="346.90" width="2.00" height="2.10" fill="#e2c4cf" />
<rect x="94.10" y="346.90" width="2.00" height="2.10" fill="#b9c6e6" />
<rect x="96.70" y="346.90" width="2.00" height="2.10" fill="#d9d2a8" />
<rect x="99.30" y="346.90" width="2.00" height="2.10" fill="#c0b0de" />
<rect x="101.90" y="346.90" width="2.00" height="2.10" fill="#c4b3e3" />
<rect x="104.50" y="346.90" width="2.00" height="2.10" fill="#c9dcae" />
<rect x="107.10" y="346.90" width="2.00" height="2.10" fill="#e2c4cf" />
<rect x="109.70" y="346.90" width="2.00" height="2.10" fill="#b9c6e6" />
<rect x="112.30" y="346.90" width="2.00" height="2.10" fill="#d9d2a8" />
<rect x="114.90" y="346.90" width="2.00" height="2.10" fill="#c0b0de" />
<rect x="117.50" y="346.90" width="2.00" height="2.10" fill="#c4b3e3" />
<rect x="120.10" y="346.90" width="2.00" height="2.10" fill="#c9dcae" />
<rect x="122.70" y="346.90" width="2.00" height="2.10" fill="#e2c4cf" />
<rect x="125.30" y="346.90" width="2.00" height="2.10" fill="#b9c6e6" />
<rect x="127.90" y="346.90" width="2.00" height="2.10" fill="#d9d2a8" />
<rect x="130.50" y="346.90" width="2.00" height="2.10" fill="#c0b0de" />
<rect x="133.10" y="346.90" width="2.00" height="2.10" fill="#c4b3e3" />
<rect x="135.70" y="346.90" width="2.00" height="2.10" fill="#c9dcae" />
<rect x="138.30" y="346.90" width="2.00" height="2.10" fill="#e2c4cf" />
<rect x="140.90" y="346.90" width="2.00" height="2.10" fill="#b9c6e6" />
<rect x="143.50" y="346.90" width="2.00" height="2.10" fill="#d9d2a8" />
<rect x="93.00" y="349.20" width="53.90" height="2.20" fill="#cfcfcf" />
<rect x="93.30" y="349.20" width="2.00" height="2.20" fill="#c4b3e3" />
<rect x="95.90" y="349.20" width="2.00" height="2.20" fill="#c9dcae" />
<rect x="98.50" y="349.20" width="2.00" height="2.20" fill="#e2c4cf" />
<rect x="101.10" y="349.20" width="2.00" height="2.20" fill="#b9c6e6" />
<rect x="103.70" y="349.20" width="2.00" height="2.20" fill="#d9d2a8" />
<rect x="106.30" y="349.20" width="2.00" height="2.20" fill="#c0b0de" />
<rect x="108.90" y="349.20" width="2.00" height="2.20" fill="#c4b3e3" />
<rect x="111.50" y="349.20" width="2.00" height="2.20" fill="#c9dcae" />
<rect x="114.10" y="349.20" width="2.00" height="2.20" fill="#e2c4cf" />
<rect x="116.70" y="349.20" width="2.00" height="2.20" fill="#b9c6e6" />
<rect x="119.30" y="349.20" width="2.00" height="2.20" fill="#d9d2a8" />
<rect x="121.90" y="349.20" width="2.00" height="2.20" fill="#c0b0de" />
<rect x="124.50" y="349.20" width="2.00" height="2.20" fill="#c4b3e3" />
<rect x="127.10" y="349.20" width="2.00" height="2.20" fill="#c9dcae" />
<rect x="129.70" y="349.20" width="2.00" height="2.20" fill="#e2c4cf" />
<rect x="132.30" y="349.20" width="2.00" height="2.20" fill="#b9c6e6" />
<rect x="134.90" y="349.20" width="2.00" height="2.20" fill="#d9d2a8" />
<rect x="137.50" y="349.20" width="2.00" height="2.20" fill="#c0b0de" />
<rect x="140.10" y="349.20" width="2.00" height="2.20" fill="#c4b3e3" />
<rect x="142.70" y="349.20" width="2.00" height="2.20" fill="#c9dcae" />
<rect x="29.40" y="342.30" width="1.30" height="1.30" fill="#5b5b7a" />
<rect x="31.70" y="342.30" width="1.30" height="1.30" fill="#5b5b7a" />
<rect x="34.00" y="342.30" width="1.30" height="1.30" fill="#5b5b7a" />
<rect x="36.30" y="342.30" width="1.30" height="1.30" fill="#5b5b7a" />
<rect x="38.60" y="342.30" width="1.30" height="1.30" fill="#5b5b7a" />
<rect x="40.90" y="342.30" width="1.30" height="1.30" fill="#5b5b7a" />
<rect x="43.20" y="342.30" width="1.30" height="1.30" fill="#5b5b7a" />
<rect x="45.50" y="342.30" width="1.30" height="1.30" fill="#5b5b7a" />
<rect x="47.80" y="342.30" width="1.30" height="1.30" fill="#5b5b7a" />
<rect x="50.10" y="342.30" width="1.30" height="1.30" fill="#5b5b7a" />
<rect x="52.40" y="342.30" width="1.30" height="1.30" fill="#5b5b7a" />
<rect x="54.70" y="342.30" width="1.30" height="1.30" fill="#5b5b7a" />
<rect x="57.00" y="342.30" width="1.30" height="1.30" fill="#5b5b7a" />
<rect x="59.30" y="342.30" width="1.30" height="1.30" fill="#5b5b7a" />
<rect x="61.60" y="342.30" width="1.30" height="1.30" fill="#5b5b7a" />
<rect x="63.90" y="342.30" width="1.30" height="1.30" fill="#5b5b7a" />
<rect x="66.20" y="342.30" width="1.30" height="1.30" fill="#5b5b7a" />
<rect x="68.50" y="342.30" width="1.30" height="1.30" fill="#5b5b7a" />
<rect x="70.80" y="342.30" width="1.30" height="1.30" fill="#5b5b7a" />
<rect x="73.10" y="342.30" width="1.30" height="1.30" fill="#5b5b7a" />
<rect x="23.40" y="341.20" width="6.00" height="2.20" fill="#fff" />
<rect x="54.70" y="344.40" width="22.30" height="2.40" fill="#fff" />
<rect x="70.00" y="346.80" width="7.00" height="4.50" fill="#fff" />
<rect x="72.70" y="346.80" width="6.30" height="2.40" fill="#fff" />
<rect x="88.30" y="350.40" width="6.30" height="2.40" fill="#fff" />
<rect x="88.50" y="353.80" width="14.50" height="6.20" fill="#fff" />
<rect x="120.80" y="358.60" width="9.60" height="2.40" fill="#fff" />
<rect x="149.60" y="362.80" width="36.10" height="3.60" fill="#fff" />
<rect x="221.70" y="367.00" width="8.40" height="2.00" fill="#fff" />
<rect x="232.50" y="371.40" width="27.80" height="13.20" fill="#fff" />
<rect x="235.00" y="379.00" width="25.30" height="5.60" fill="#fff" />
<rect x="185.70" y="362.80" width="12.00" height="3.60" fill="#ececec" />
<rect x="102.70" y="356.60" width="44.20" height="2.00" fill="#cfcfcf" />
<rect x="103.00" y="356.60" width="2.00" height="2.00" fill="#c4b3e3" />
<rect x="105.60" y="356.60" width="2.00" height="2.00" fill="#c9dcae" />
<rect x="108.20" y="356.60" width="2.00" height="2.00" fill="#e2c4cf" />
<rect x="110.80" y="356.60" width="2.00" height="2.00" fill="#b9c6e6" />
<rect x="113.40" y="356.60" width="2.00" height="2.00" fill="#d9d2a8" />
<rect x="116.00" y="356.60" width="2.00" height="2.00" fill="#c0b0de" />
<rect x="118.60" y="356.60" width="2.00" height="2.00" fill="#c4b3e3" />
<rect x="121.20" y="356.60" width="2.00" height="2.00" fill="#c9dcae" />
<rect x="123.80" y="356.60" width="2.00" height="2.00" fill="#e2c4cf" />
<rect x="126.40" y="356.60" width="2.00" height="2.00" fill="#b9c6e6" />
<rect x="129.00" y="356.60" width="2.00" height="2.00" fill="#d9d2a8" />
<rect x="131.60" y="356.60" width="2.00" height="2.00" fill="#c0b0de" />
<rect x="134.20" y="356.60" width="2.00" height="2.00" fill="#c4b3e3" />
<rect x="136.80" y="356.60" width="2.00" height="2.00" fill="#c9dcae" />
<rect x="139.40" y="356.60" width="2.00" height="2.00" fill="#e2c4cf" />
<rect x="142.00" y="356.60" width="2.00" height="2.00" fill="#b9c6e6" />
<rect x="144.60" y="356.60" width="2.00" height="2.00" fill="#d9d2a8" />
<rect x="94.60" y="352.30" width="165.70" height="1.40" fill="#4b78a8" />
<rect x="150.00" y="353.80" width="110.30" height="5.60" fill="#dfe3e8" />
<rect x="131.50" y="359.60" width="128.80" height="1.40" fill="#3f7d8c" />
<rect x="150.00" y="359.60" width="110.30" height="1.40" fill="#4b6f98" />
<line x1="145.40" y1="335.00" x2="145.40" y2="385.00" stroke="#8a8a8a" stroke-width="0.4" stroke-dasharray="1 0.8"/>
<line x1="147.60" y1="335.00" x2="147.60" y2="385.00" stroke="#8a8a8a" stroke-width="0.4" stroke-dasharray="1 0.8"/>
<text x="275.30" y="235.70" font-size="10.5" text-anchor="start" fill="#000" font-weight="bold" >E</text>
<line x1="308.60" y1="242.80" x2="308.60" y2="394.80" stroke="#111111" stroke-width="0.95" />
<line x1="308.20" y1="394.40" x2="337.60" y2="394.40" stroke="#111111" stroke-width="0.95" />
<line x1="306.60" y1="245.40" x2="308.60" y2="245.40" stroke="#111111" stroke-width="0.7" />
<text x="303.00" y="247.45" font-size="7.6" text-anchor="end" fill="#333333" font-weight="normal" >1.00</text>
<line x1="306.60" y1="280.45" x2="308.60" y2="280.45" stroke="#111111" stroke-width="0.7" />
<text x="303.00" y="282.50" font-size="7.6" text-anchor="end" fill="#333333" font-weight="normal" >0.75</text>
<line x1="306.60" y1="315.50" x2="308.60" y2="315.50" stroke="#111111" stroke-width="0.7" />
<text x="303.00" y="317.55" font-size="7.6" text-anchor="end" fill="#333333" font-weight="normal" >0.50</text>
<line x1="306.60" y1="350.55" x2="308.60" y2="350.55" stroke="#111111" stroke-width="0.7" />
<text x="303.00" y="352.60" font-size="7.6" text-anchor="end" fill="#333333" font-weight="normal" >0.25</text>
<line x1="306.60" y1="385.60" x2="308.60" y2="385.60" stroke="#111111" stroke-width="0.7" />
<text x="303.00" y="387.65" font-size="7.6" text-anchor="end" fill="#333333" font-weight="normal" >0.00</text>
<rect x="324.10" y="342.10" width="10.00" height="43.50" fill="#d0002a" />
<line x1="312.90" y1="385.60" x2="322.60" y2="385.60" stroke="#888" stroke-width="0.6" />
<line x1="317.80" y1="310.80" x2="329.60" y2="310.80" stroke="#6b6b6b" stroke-width="0.7" />
<line x1="317.80" y1="310.80" x2="317.80" y2="312.10" stroke="#6b6b6b" stroke-width="0.7" />
<line x1="329.60" y1="310.80" x2="329.60" y2="312.10" stroke="#6b6b6b" stroke-width="0.7" />
<text x="324.10" y="310.30" font-size="6" text-anchor="middle" fill="#333" font-weight="normal" >*</text>
<text transform="translate(319.6,370) rotate(-90)" font-size="7.3" text-anchor="middle" fill="#222">N = 18</text>
<text transform="translate(330.3,327) rotate(-90)" font-size="7.3" text-anchor="middle" fill="#222">N = 42</text>
<line x1="317.90" y1="394.40" x2="317.90" y2="396.60" stroke="#111111" stroke-width="0.7" />
<text transform="translate(320.80,404.40) rotate(-45)" x="0" y="0" font-size="7.6" text-anchor="end" fill="#333333">CBF</text>
<line x1="329.20" y1="394.40" x2="329.20" y2="396.60" stroke="#111111" stroke-width="0.7" />
<text transform="translate(332.10,404.40) rotate(-45)" x="0" y="0" font-size="7.6" text-anchor="end" fill="#333333">TP53</text>
<text transform="translate(279.00,318.20) rotate(-90)" x="0" y="2.97" font-size="8.5" text-anchor="middle" fill="#1a1a1a" textLength="117.40" lengthAdjust="spacingAndGlyphs">Fraction samples with telomeric insertions</text>
<text x="364.00" y="235.80" font-size="10.5" text-anchor="start" fill="#000" font-weight="bold" >F</text>
<line x1="395.50" y1="249.40" x2="395.50" y2="394.30" stroke="#111111" stroke-width="0.95" />
<line x1="395.10" y1="393.90" x2="423.20" y2="393.90" stroke="#111111" stroke-width="0.95" />
<line x1="393.50" y1="252.10" x2="395.50" y2="252.10" stroke="#111111" stroke-width="0.7" />
<text x="390.20" y="254.15" font-size="7.6" text-anchor="end" fill="#333333" font-weight="normal" >600</text>
<line x1="393.50" y1="296.90" x2="395.50" y2="296.90" stroke="#111111" stroke-width="0.7" />
<text x="390.20" y="298.95" font-size="7.6" text-anchor="end" fill="#333333" font-weight="normal" >400</text>
<line x1="393.50" y1="341.70" x2="395.50" y2="341.70" stroke="#111111" stroke-width="0.7" />
<text x="390.20" y="343.75" font-size="7.6" text-anchor="end" fill="#333333" font-weight="normal" >200</text>
<line x1="393.50" y1="386.50" x2="395.50" y2="386.50" stroke="#111111" stroke-width="0.7" />
<text x="390.20" y="388.55" font-size="7.6" text-anchor="end" fill="#333333" font-weight="normal" >0</text>
<line x1="404.40" y1="350.90" x2="404.40" y2="365.90" stroke="#2a2a2a" stroke-width="0.9" />
<line x1="404.40" y1="380.90" x2="404.40" y2="385.50" stroke="#2a2a2a" stroke-width="0.9" />
<rect x="400.25" y="365.90" width="8.30" height="15.00" fill="#2aa0dc" />
<line x1="400.25" y1="374.70" x2="408.55" y2="374.70" stroke="#0a2236" stroke-width="1.3" />
<line x1="415.40" y1="334.60" x2="415.40" y2="342.20" stroke="#2a2a2a" stroke-width="0.9" />
<line x1="415.40" y1="371.00" x2="415.40" y2="380.20" stroke="#2a2a2a" stroke-width="0.9" />
<rect x="411.15" y="342.20" width="8.50" height="28.80" fill="#2aa0dc" />
<line x1="411.15" y1="357.10" x2="419.65" y2="357.10" stroke="#0a2236" stroke-width="1.3" />
<circle cx="404.60" cy="330.50" r="1.3" fill="#000"/>
<circle cx="415.20" cy="257.40" r="1.3" fill="#000"/>
<line x1="403.60" y1="247.70" x2="415.50" y2="247.70" stroke="#6b6b6b" stroke-width="0.7" />
<line x1="403.60" y1="247.70" x2="403.60" y2="249.00" stroke="#6b6b6b" stroke-width="0.7" />
<line x1="415.50" y1="247.70" x2="415.50" y2="249.00" stroke="#6b6b6b" stroke-width="0.7" />
<text x="409.60" y="246.30" font-size="6" text-anchor="middle" fill="#333" font-weight="normal" >*</text>
<text transform="translate(407,313.7) rotate(-90)" font-size="7.3" text-anchor="middle" fill="#222">N = 29</text>
<text transform="translate(418.2,313.7) rotate(-90)" font-size="7.3" text-anchor="middle" fill="#222">N = 13</text>
<line x1="404.70" y1="393.90" x2="404.70" y2="396.60" stroke="#111111" stroke-width="0.7" />
<line x1="416.00" y1="393.90" x2="416.00" y2="396.60" stroke="#111111" stroke-width="0.7" />
<text transform="translate(407.60,404.00) rotate(-45)" x="0" y="0" font-size="7.6" text-anchor="end" fill="#333333">No insertion</text>
<text transform="translate(418.60,404.20) rotate(-45)" x="0" y="0" font-size="7.6" text-anchor="end" fill="#333333">Telomeric</text>
<text transform="translate(424.90,410.90) rotate(-45)" x="0" y="0" font-size="7.6" text-anchor="end" fill="#333333">insertion</text>
<text transform="translate(368.10,322.00) rotate(-90)" x="0" y="2.97" font-size="8.5" text-anchor="middle" fill="#1a1a1a" textLength="25.10" lengthAdjust="spacingAndGlyphs">SV count</text>
<text x="452.30" y="235.80" font-size="10.5" text-anchor="start" fill="#000" font-weight="bold" >G</text>
<line x1="485.30" y1="246.80" x2="485.30" y2="394.40" stroke="#111111" stroke-width="0.95" />
<line x1="484.90" y1="394.00" x2="512.90" y2="394.00" stroke="#111111" stroke-width="0.95" />
<line x1="483.30" y1="248.80" x2="485.30" y2="248.80" stroke="#111111" stroke-width="0.7" />
<text x="480.00" y="250.85" font-size="7.6" text-anchor="end" fill="#333333" font-weight="normal" >1.00</text>
<line x1="483.30" y1="282.95" x2="485.30" y2="282.95" stroke="#111111" stroke-width="0.7" />
<text x="480.00" y="285.00" font-size="7.6" text-anchor="end" fill="#333333" font-weight="normal" >0.75</text>
<line x1="483.30" y1="317.10" x2="485.30" y2="317.10" stroke="#111111" stroke-width="0.7" />
<text x="480.00" y="319.15" font-size="7.6" text-anchor="end" fill="#333333" font-weight="normal" >0.50</text>
<line x1="483.30" y1="351.25" x2="485.30" y2="351.25" stroke="#111111" stroke-width="0.7" />
<text x="480.00" y="353.30" font-size="7.6" text-anchor="end" fill="#333333" font-weight="normal" >0.25</text>
<line x1="483.30" y1="385.40" x2="485.30" y2="385.40" stroke="#111111" stroke-width="0.7" />
<text x="480.00" y="387.45" font-size="7.6" text-anchor="end" fill="#333333" font-weight="normal" >0.00</text>
<rect x="489.70" y="331.20" width="9.60" height="54.20" fill="#2aa0dc" />
<rect x="501.10" y="362.00" width="9.70" height="23.40" fill="#2aa0dc" />
<line x1="493.50" y1="325.70" x2="506.00" y2="325.70" stroke="#6b6b6b" stroke-width="0.7" />
<line x1="493.50" y1="325.70" x2="493.50" y2="327.00" stroke="#6b6b6b" stroke-width="0.7" />
<line x1="506.00" y1="325.70" x2="506.00" y2="327.00" stroke="#6b6b6b" stroke-width="0.7" />
<text x="499.60" y="323.60" font-size="7.0" text-anchor="middle" fill="#333" font-weight="normal" >ns</text>
<text transform="translate(497.1,302.3) rotate(-90)" font-size="7.3" text-anchor="middle" fill="#222">N = 25</text>
<text transform="translate(507.2,346.2) rotate(-90)" font-size="7.3" text-anchor="middle" fill="#222">N = 17</text>
<line x1="495.10" y1="394.00" x2="495.10" y2="396.50" stroke="#111111" stroke-width="0.7" />
<line x1="506.50" y1="394.00" x2="506.50" y2="396.50" stroke="#111111" stroke-width="0.7" />
<text transform="translate(498.70,404.30) rotate(-45)" x="0" y="0" font-size="7.6" text-anchor="end" fill="#333333">chromothripsis</text>
<text transform="translate(510.10,404.30) rotate(-45)" x="0" y="0" font-size="7.6" text-anchor="end" fill="#333333">No chromothripsis</text>
<text transform="translate(456.00,320.00) rotate(-90)" x="0" y="2.97" font-size="8.5" text-anchor="middle" fill="#1a1a1a" textLength="117.30" lengthAdjust="spacingAndGlyphs">Fraction samples with telomeric insertions</text>
</svg>
</div></body></html>
